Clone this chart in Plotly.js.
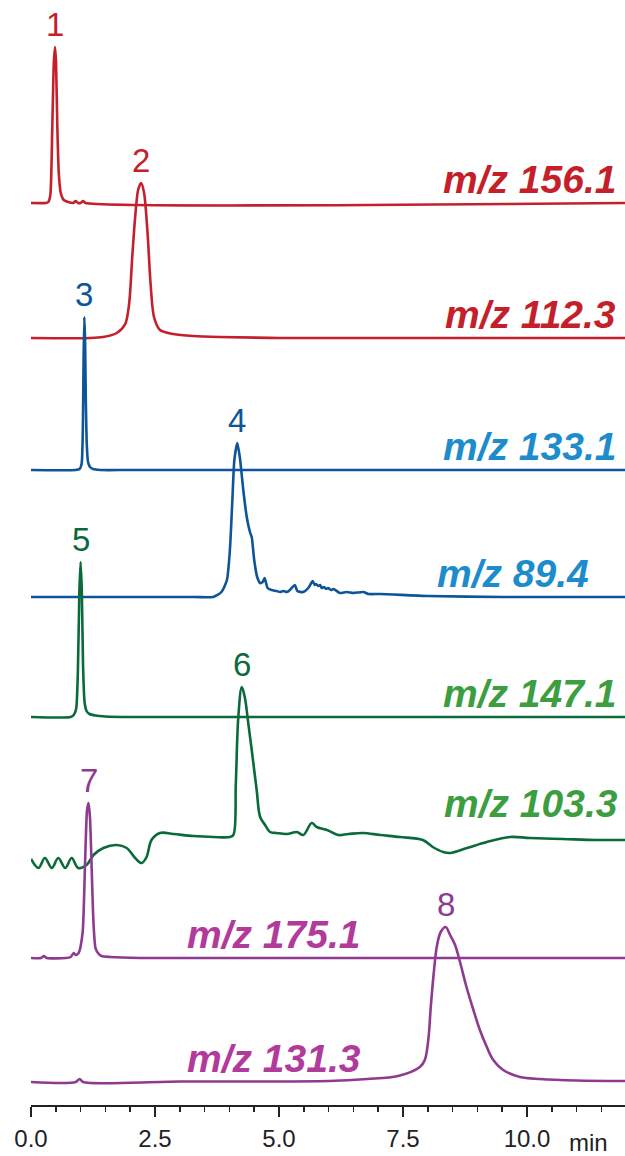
<!DOCTYPE html>
<html>
<head>
<meta charset="utf-8">
<script src="https://cdn.plot.ly/plotly-3.0.1.min.js"></script>
<style>html,body{margin:0;padding:0;background:#fff;}#chart{width:625px;height:1156px;}</style>
</head>
<body>
<div id="chart"></div>
<script>
// ---- data (time in min, signal in arbitrary units above each trace's baseline) ----
var mzLabels = ['m/z 156.1', 'm/z 112.3', 'm/z 133.1', 'm/z 89.4', 'm/z 147.1', 'm/z 103.3', 'm/z 175.1', 'm/z 131.3'];
var peakLabels = ['1', '2', '3', '4', '5', '6', '7', '8'];
var baselines = [902, 767, 635, 508, 388, 235, 147, 23];

var t1 = [0, 0.30, 0.35, 0.39, 0.43, 0.46, 0.484, 0.505, 0.53, 0.56, 0.60, 0.66, 0.75, 0.85, 0.90, 0.95, 1.00, 1.05, 1.10, 11.98];
var v1 = [0, 0, 1, 8, 78, 140, 156, 140, 78, 30, 10, 3, 1, 0, 2, 0, 0, 2, 0, 0];

var t2 = [0, 1.2, 1.45, 1.73, 1.90, 1.98, 2.04, 2.10, 2.16, 2.22, 2.28, 2.35, 2.41, 2.48, 2.60, 2.87, 3.27, 3.8, 5, 11.98];
var v2 = [0, 0, 1, 5, 14, 35, 80, 121, 148, 155, 145, 105, 55, 21, 8, 4, 2, 1, 0, 0];

var t3 = [0, 0.90, 0.98, 1.02, 1.045, 1.06, 1.075, 1.09, 1.105, 1.125, 1.15, 1.19, 1.25, 1.4, 2, 11.98];
var v3 = [0, 0, 1, 6, 40, 110, 153, 130, 70, 25, 8, 3, 1, 0, 0, 0];

var t4 = [0, 3.3, 3.67, 3.84, 3.95, 4.01, 4.06, 4.10, 4.16, 4.21, 4.28, 4.35, 4.42, 4.45, 4.50, 4.56, 4.62, 4.67, 4.71, 4.77, 4.85, 4.95, 5.02, 5.09, 5.16, 5.22, 5.32, 5.37, 5.49, 5.59, 5.68, 5.72, 5.75, 5.79, 5.83, 5.86, 5.91, 5.95, 5.99, 6.05, 6.10, 6.23, 6.36, 6.50, 6.70, 6.80, 7.04, 8.0, 9.5, 11.98];
var v4 = [0, 0, 0, 5, 17, 47, 97, 137, 154, 140, 107, 80, 64, 60, 37, 20, 14, 15, 19, 9, 7, 6, 5, 6, 5, 7, 12, 6, 5, 9, 16, 12, 13, 11, 12, 9, 10, 8, 9, 7, 8, 4, 5, 4, 5, 3, 3, 1, 0, 0];

var t5 = [0, 0.80, 0.86, 0.91, 0.945, 0.975, 1.00, 1.025, 1.05, 1.08, 1.12, 1.18, 1.30, 1.5, 2, 11.98];
var v5 = [0, 0, 2, 8, 45, 125, 155, 125, 50, 15, 6, 3, 1.5, 0.5, 0, 0];

var t6 = [0, 0.15, 0.28, 0.42, 0.55, 0.69, 0.82, 0.95, 1.12, 1.26, 1.46, 1.73, 1.93, 2.10, 2.23, 2.33, 2.43, 2.60, 2.87, 3.27, 3.68, 4.01, 4.08, 4.13, 4.18, 4.25, 4.31, 4.38, 4.45, 4.55, 4.62, 4.72, 4.82, 4.95, 5.16, 5.36, 5.49, 5.66, 5.76, 5.97, 6.19, 6.40, 6.69, 7.04, 7.44, 7.90, 8.10, 8.31, 8.45, 8.79, 9.19, 9.66, 10.06, 10.73, 11.41, 11.98];
var v6 = [11, 2, 12, 2, 12, 2, 12, 2, 5, 15, 22, 25, 22, 12, 7, 13, 30, 37, 36, 34, 33, 33, 35, 87, 153, 183, 173, 147, 120, 80, 53, 45, 38, 37, 36, 38, 35, 47, 43, 40, 35, 36, 37, 35, 33, 30, 23, 18, 17, 22, 28, 33, 32, 31, 30, 30];

var t7 = [0, 0.20, 0.26, 0.32, 0.70, 0.80, 0.86, 0.90, 0.96, 1.04, 1.09, 1.13, 1.16, 1.19, 1.22, 1.26, 1.30, 1.35, 1.42, 1.6, 2.2, 11.98];
var v7 = [0, 0, 2, 0, 0, 1, 5, 3, 5, 25, 95, 148, 155, 140, 95, 35, 10, 5, 2, 1, 0, 0];

var t8 = [0, 0.90, 0.98, 1.05, 3, 6.0, 6.78, 7.40, 7.84, 7.94, 8.01, 8.06, 8.12, 8.18, 8.26, 8.36, 8.45, 8.55, 8.65, 8.78, 8.92, 9.05, 9.19, 9.32, 9.52, 9.86, 10.26, 11, 11.98];
var v8 = [0, 0, 3, 0, 0.5, 1, 3, 6, 15, 22, 42, 75, 109, 135, 150, 155, 147, 137, 120, 95, 72, 52, 35, 22, 12, 5, 3, 1.5, 1];

var tickVals = [0, 2.5, 5, 7.5, 10];
var tickText = ['0.0', '2.5', '5.0', '7.5', '10.0'];

// ---- styling ----
var times = [t1, t2, t3, t4, t5, t6, t7, t8];
var vals = [v1, v2, v3, v4, v5, v6, v7, v8];
var lineColors = ['#c41f2b', '#c41f2b', '#0d5596', '#0d5596', '#0b6a3b', '#0b6a3b', '#8d3a90', '#8d3a90'];
var labelColors = ['#c41f2b', '#c41f2b', '#1c8ccc', '#1c8ccc', '#3c9e40', '#3c9e40', '#b13a9b', '#b13a9b'];
var smooth = [0.6, 0.8, 0.6, 0.6, 0.6, 1.0, 0.6, 0.9];
var FONT = 'Liberation Sans, Arial, sans-serif';

var traces = [];
var annotations = [];
for (var i = 0; i < 8; i++) {
  var y = vals[i].map(function (v) { return v + baselines[i]; });
  traces.push({
    x: times[i], y: y, type: 'scatter', mode: 'lines',
    line: {color: lineColors[i], width: 2.6, shape: 'spline', smoothing: smooth[i]},
    hoverinfo: 'skip', showlegend: false
  });
  // peak label at trace maximum
  var mi = 0;
  for (var k = 1; k < vals[i].length; k++) if (vals[i][k] > vals[i][mi]) mi = k;
  annotations.push({
    x: times[i][mi], y: y[mi], xref: 'x', yref: 'y', text: peakLabels[i],
    showarrow: false, xanchor: 'center', yanchor: 'bottom', yshift: 2,
    font: {family: FONT, size: 33, color: lineColors[i]}
  });
}

// m/z labels
var mzPos = [
  {x: 11.84, anchor: 'right'}, {x: 11.84, anchor: 'right'}, {x: 11.84, anchor: 'right'},
  {x: 11.30, anchor: 'right'}, {x: 11.84, anchor: 'right'}, {x: 11.88, anchor: 'right'},
  {x: 3.10, anchor: 'left'}, {x: 3.10, anchor: 'left'}
];
var mzBase = [902, 767, 635, 508, 388, 278, 147, 23];
for (var j = 0; j < 8; j++) {
  annotations.push({
    x: mzPos[j].x, y: mzBase[j], xref: 'x', yref: 'y', text: mzLabels[j],
    showarrow: false, xanchor: mzPos[j].anchor, yanchor: 'bottom', yshift: 0,
    font: {family: FONT, size: 39, color: labelColors[j], weight: 'bold', style: 'italic'}
  });
}
annotations.push({
  x: 11.25, y: 0, xref: 'x', yref: 'paper', text: 'min', showarrow: false,
  xanchor: 'center', yanchor: 'top', yshift: -22,
  font: {family: FONT, size: 24, color: '#222'}
});

var layout = {
  width: 625, height: 1156,
  margin: {l: 31, r: 0, t: 0, b: 51},
  paper_bgcolor: '#fff', plot_bgcolor: '#fff',
  xaxis: {
    range: [0, 11.976], showgrid: false, zeroline: false,
    showline: true, linecolor: '#222', linewidth: 1.5,
    ticks: 'outside', ticklen: 10, tickwidth: 1.5, tickcolor: '#222',
    tickmode: 'array', tickvals: tickVals, ticktext: tickText,
    ticklabelstandoff: 2,
    tickfont: {family: FONT, size: 24, color: '#222'},
    minor: {tickmode: 'linear', tick0: 0, dtick: 0.5, ticks: 'outside', ticklen: 5, tickwidth: 1.5, tickcolor: '#222', showgrid: false}
  },
  yaxis: {range: [0, 1105], visible: false, showgrid: false, zeroline: false},
  annotations: annotations
};

Plotly.newPlot('chart', traces, layout, {displayModeBar: false, staticPlot: true});
</script>
</body>
</html>
